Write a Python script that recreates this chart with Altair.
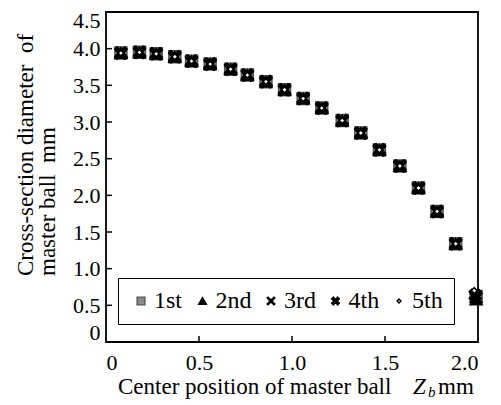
import altair as alt
import pandas as pd

# ---- data ----
series = ["1st", "2nd", "3rd", "4th", "5th"]
z_common = [0.08, 0.18, 0.27, 0.37, 0.46, 0.56, 0.67, 0.76, 0.86, 0.96,
            1.06, 1.16, 1.27, 1.37, 1.47, 1.58, 1.68, 1.78, 1.88]
z_last = [1.99, 1.99, 1.99, 1.985, 1.98]
d_1st = [3.94, 3.95, 3.93, 3.89, 3.83, 3.79, 3.72, 3.64, 3.55, 3.44,
         3.32, 3.19, 3.02, 2.85, 2.62, 2.40, 2.10, 1.78, 1.34, 0.62]
d_2nd = [3.94, 3.95, 3.93, 3.89, 3.83, 3.79, 3.72, 3.64, 3.55, 3.44,
         3.32, 3.19, 3.02, 2.85, 2.62, 2.40, 2.10, 1.78, 1.34, 0.58]
d_3rd = [3.94, 3.95, 3.93, 3.89, 3.83, 3.79, 3.72, 3.64, 3.55, 3.44,
         3.32, 3.19, 3.02, 2.85, 2.62, 2.40, 2.10, 1.78, 1.34, 0.60]
d_4th = [3.94, 3.95, 3.93, 3.89, 3.83, 3.79, 3.72, 3.64, 3.55, 3.44,
         3.32, 3.19, 3.02, 2.85, 2.62, 2.40, 2.10, 1.78, 1.34, 0.64]
d_5th = [3.94, 3.95, 3.93, 3.89, 3.83, 3.79, 3.72, 3.64, 3.55, 3.44,
         3.32, 3.19, 3.02, 2.85, 2.62, 2.40, 2.10, 1.78, 1.34, 0.70]
x_ticks = [0, 0.5, 1.0, 1.5, 2.0]
y_ticks = [0, 0.5, 1.0, 1.5, 2.0, 2.5, 3.0, 3.5, 4.0, 4.5]

values = [d_1st, d_2nd, d_3rd, d_4th, d_5th]
rows = []
for s, ys, zl in zip(series, values, z_last):
    zs = z_common + [zl]
    for z, d in zip(zs, ys):
        rows.append({"series": s, "z": z, "d": d})
df = pd.DataFrame(rows)

FONT = "Liberation Serif"
W, H = 372, 330

thin_x = "M-1,-0.75L-0.75,-1L0,-0.25L0.75,-1L1,-0.75L0.25,0L1,0.75L0.75,1L0,0.25L-0.75,1L-1,0.75L-0.25,0Z"
bold_x = "M-1,-0.55L-0.55,-1L0,-0.4L0.55,-1L1,-0.55L0.4,0L1,0.55L0.55,1L0,0.4L-0.55,1L-1,0.55L-0.4,0Z"
small_diamond = "M0,-0.5L0.5,0L0,0.5L-0.5,0Z"

lab_expr = "datum.value == 0 ? '0' : format(datum.value, '.1f')"

xscale = alt.Scale(domain=[0, 2], nice=False)
yscale = alt.Scale(domain=[0, 4.5], nice=False)
xaxis = alt.Axis(values=x_ticks, labelExpr=lab_expr, title=None,
                 ticks=False, domain=False, grid=False, labelPadding=10,
                 labelOverlap=False)
yaxis = alt.Axis(values=y_ticks, labelExpr=lab_expr, title=None,
                 ticks=False, domain=False, grid=False, labelPadding=6,
                 labelOverlap=False, labelFlush=True, labelFlushOffset=2)

points = alt.Chart(df).mark_point(filled=True, size=140, strokeWidth=1.6, opacity=1).encode(
    x=alt.X("z:Q", scale=xscale, axis=xaxis),
    y=alt.Y("d:Q", scale=yscale, axis=yaxis),
    shape=alt.Shape("series:N", scale=alt.Scale(domain=series,
                    range=["square", "triangle-up", thin_x, bold_x, small_diamond]),
                    legend=alt.Legend(title=None)),
    fill=alt.Fill("series:N", scale=alt.Scale(domain=series,
                  range=["#8a8a8a", "black", "black", "black", "white"]),
                  legend=alt.Legend(title=None)),
    stroke=alt.Stroke("series:N", scale=alt.Scale(domain=series,
                      range=["#555555", "black", "black", "black", "black"]),
                      legend=alt.Legend(title=None)),
    order=alt.Order("series:N"),
)

xt = pd.DataFrame({"t": [0.5, 1.0, 1.5]})
x_tick_marks = alt.Chart(xt).mark_rule(color="black", strokeWidth=1.5).encode(
    x=alt.X("t:Q", scale=xscale, axis=xaxis), y=alt.value(H), y2=alt.value(H - 6))
yt = pd.DataFrame({"t": [0.5, 1.0, 1.5, 2.0, 2.5, 3.0, 3.5, 4.0]})
y_tick_marks = alt.Chart(yt).mark_rule(color="black", strokeWidth=1.5).encode(
    y=alt.Y("t:Q", scale=yscale, axis=yaxis), x=alt.value(0), x2=alt.value(6))


def label(text, x, y, size=23, angle=0, style="normal", align="left"):
    return alt.Chart(pd.DataFrame({"t": [text]})).mark_text(
        font=FONT, fontSize=size, angle=angle, fontStyle=style, align=align,
        baseline="middle", color="black").encode(
        text="t:N", x=alt.value(x), y=alt.value(y))


ytitle1 = label("Cross-section diameter\u00a0 of", -80, 264, angle=270)
ytitle2 = label("master ball\u00a0 mm", -58, 264, angle=270)
xtitle1 = label("Center position of master ball", 12, 375)
xtitle2 = label("Z", 307, 375, style="italic")
xtitle3 = label("b", 322, 380, size=15, style="italic")
xtitle4 = label("mm", 332, 375)

chart = alt.layer(
    points, x_tick_marks, y_tick_marks,
    ytitle1, ytitle2, xtitle1, xtitle2, xtitle3, xtitle4,
).properties(
    width=W, height=H,
    autosize=alt.AutoSizeParams(type="none"),
    padding={"left": 98, "top": 4, "right": 15, "bottom": 63},
).configure(font=FONT).configure_axis(
    labelFont=FONT, labelFontSize=22, labelColor="black",
).configure_view(
    stroke="black", strokeWidth=1.8,
).configure_legend(
    orient="none", legendX=12, legendY=266, direction="horizontal", columns=5,
    labelFont=FONT, labelFontSize=24, labelColor="black", labelOffset=1,
    symbolSize=60, symbolStrokeWidth=1.4, columnPadding=7.5,
    padding=11, strokeColor="black", fillColor="white", cornerRadius=0,
)

chart.save("out.html", embed_options={"renderer": "svg", "actions": False})
